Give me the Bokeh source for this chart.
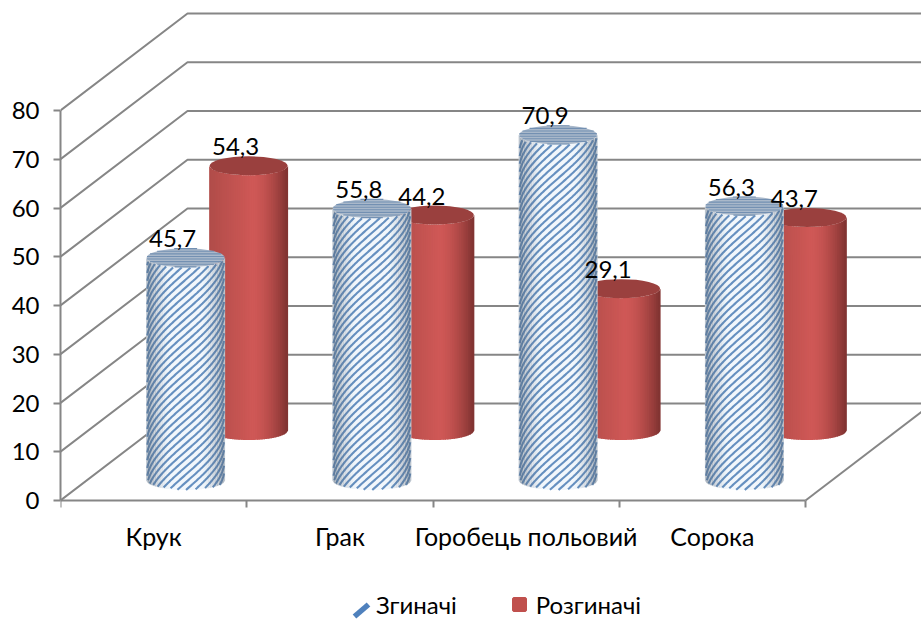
import numpy as np
from bokeh.core.properties import value
from bokeh.embed import file_html
from bokeh.models import FixedTicker, Legend, LegendItem, LinearAxis, Range1d
from bokeh.plotting import figure
from bokeh.resources import INLINE

# Chart values
categories = ["Крук", "Грак", "Горобець польовий", "Сорока"]
flexors = [45.7, 55.8, 70.9, 56.3]
extensors = [54.3, 44.2, 29.1, 43.7]
series_names = ["Згиначі", "Розгиначі"]
value_ticks = [0, 10, 20, 30, 40, 50, 60, 70, 80]

FONT = "Lato"
WORD_PX = "25px"
LEGEND_PX = "24px"
NUMBER_PX = "24px"
AXIS_GREY = "#868686"

# Pixel scale of the two data axes
PX_PER_CAT = 186.25
PX_PER_VAL = 4.875

# Oblique projection of the depth axis, in data units
DEPTH_X = 127 / PX_PER_CAT
DEPTH_Y = 97 / PX_PER_VAL

# Placement of each series inside its category slot
FLEX_SHIFT, FLEX_LIFT = 32 / PX_PER_CAT, 20 / PX_PER_VAL
EXT_SHIFT, EXT_LIFT = 95 / PX_PER_CAT, 70 / PX_PER_VAL

# Cylinder proportions
HALF_W = 39 / PX_PER_CAT
CAP_B = 9.5 / PX_PER_VAL
SLICES = 44

# The frame fills the page down to the legend; the category axis is pinned at zero
p = figure(
    width=921, height=619,
    x_range=Range1d(0, 861 / PX_PER_CAT),
    y_range=Range1d(-119 / PX_PER_VAL, 500 / PX_PER_VAL),
    output_backend="svg", toolbar_location=None,
    min_border_left=60, min_border_right=0, min_border_top=0, min_border_bottom=0,
    x_axis_type=None, y_axis_type=None, outline_line_color=None,
)
p.xgrid.visible = False
p.ygrid.visible = False

# Value axis
y_axis = LinearAxis(ticker=FixedTicker(ticks=value_ticks), bounds=(0, 80))
y_axis.axis_line_color = AXIS_GREY
y_axis.axis_line_width = 2
y_axis.major_tick_line_color = AXIS_GREY
y_axis.major_tick_line_width = 2
y_axis.major_tick_out = 7
y_axis.major_tick_in = 0
y_axis.minor_tick_line_color = None
y_axis.major_label_standoff = 14
y_axis.major_label_text_font = FONT
y_axis.major_label_text_font_size = NUMBER_PX
y_axis.major_label_text_color = "#000000"
p.add_layout(y_axis, "left")

# Category axis: ticks on slot edges, labels on slot centres
centres = [i + 0.5 for i in range(len(categories))]
x_axis = LinearAxis(
    ticker=FixedTicker(ticks=centres, minor_ticks=list(range(len(categories) + 1))),
    bounds=(0, len(categories)),
    fixed_location=0,
)
x_axis.major_label_overrides = dict(zip(centres, categories))
x_axis.axis_line_color = AXIS_GREY
x_axis.axis_line_width = 2
x_axis.major_tick_line_color = None
x_axis.major_tick_out = 0
x_axis.major_tick_in = 0
x_axis.minor_tick_line_color = AXIS_GREY
x_axis.minor_tick_line_width = 2
x_axis.minor_tick_out = 7
x_axis.minor_tick_in = 0
x_axis.major_label_standoff = 13
x_axis.major_label_text_font = FONT
x_axis.major_label_text_font_size = WORD_PX
x_axis.major_label_text_color = "#000000"
p.add_layout(x_axis, "below")

# Side wall, back wall and floor edge lines
x_end = p.x_range.end
p.multi_line(
    xs=[[0, DEPTH_X, x_end] for _ in value_ticks],
    ys=[[v, v + DEPTH_Y, v + DEPTH_Y] for v in value_ticks],
    line_color=AXIS_GREY, line_width=2,
)
p.line(x=[len(categories), len(categories) + DEPTH_X], y=[0, DEPTH_Y], line_color=AXIS_GREY, line_width=2)


def hex_mix(c1, c2, t):
    a = np.array([int(c1[i:i + 2], 16) for i in (1, 3, 5)], float)
    b = np.array([int(c2[i:i + 2], 16) for i in (1, 3, 5)], float)
    m = a + (b - a) * t
    return "#%02x%02x%02x" % tuple(int(round(v)) for v in m)


def slice_polys(cx, y_low, y_high):
    """Vertical strips following the curved base and the curved top rim."""
    edges = np.linspace(-1, 1, SLICES + 1)
    xs, ys, mids = [], [], []
    for u0, u1 in zip(edges[:-1], edges[1:]):
        us = np.linspace(u0, u1, 4)
        arc = CAP_B * np.sqrt(np.clip(1 - us ** 2, 0, 1))
        px = cx + HALF_W * us
        pad = HALF_W * 0.012
        px[0] -= pad
        px[-1] += pad
        xs.append(list(px) + list(px[::-1]))
        ys.append(list(y_low - arc) + list((y_high - arc)[::-1]))
        mids.append((u0 + u1) / 2)
    return xs, ys, np.array(mids)


def draw_extensor(cx, lift, val):
    low, high = lift, lift + val
    xs, ys, mids = slice_polys(cx, low, high)
    colours = []
    for u in mids:
        if u < 0.1:
            colours.append(hex_mix("#b04c49", "#cf5856", (u + 1) / 1.1))
        else:
            colours.append(hex_mix("#cf5856", "#7f3230", ((u - 0.1) / 0.9) ** 1.7))
    p.patches(xs=xs, ys=ys, fill_color=colours, line_color=None)
    p.ellipse(x=[cx], y=[high], width=[2 * HALF_W], height=[2 * CAP_B],
              fill_color="#9a403e", line_color=None)


def draw_flexor(cx, lift, val):
    low, high = lift, lift + val
    xs, ys, mids = slice_polys(cx, low, high)
    p.patches(xs=xs, ys=ys, fill_color="#f2f7fc", line_color=None)

    # Diagonal stripes that wrap around the round body
    us = np.linspace(-0.985, 0.985, 90)
    px = us * HALF_W * PX_PER_CAT
    wrap = 0.88 * 39 * np.arcsin(us)
    bottom_px = (low - CAP_B * np.sqrt(1 - us ** 2)) * PX_PER_VAL
    top_px = (high - CAP_B * np.sqrt(1 - us ** 2)) * PX_PER_VAL
    stripe_x, stripe_y = [], []
    for base in np.arange(low * PX_PER_VAL - 80, high * PX_PER_VAL + 80, 7.8):
        h = base + wrap
        keep = (h >= bottom_px) & (h <= top_px)
        if keep.sum() < 2:
            continue
        stripe_x.append(list(cx + px[keep] / PX_PER_CAT))
        stripe_y.append(list(h[keep] / PX_PER_VAL))
    p.multi_line(xs=stripe_x, ys=stripe_y, line_color="#6690c0", line_width=2.1)

    # Edge shading laid over the stripes
    alphas = np.clip(np.abs(mids) - 0.4, 0, 1) ** 1.5 * 0.8
    p.patches(xs=xs, ys=ys, fill_color="#5a6878", fill_alpha=list(alphas), line_color=None)

    # Top cap with fine horizontal stripes
    p.ellipse(x=[cx], y=[high], width=[2 * HALF_W], height=[2 * CAP_B],
              fill_color="#a9b8ca", line_color=None)
    offs = np.arange(-CAP_B * 0.96, CAP_B, 2.6 / PX_PER_VAL)
    half = HALF_W * np.sqrt(1 - (offs / CAP_B) ** 2)
    p.segment(x0=list(cx - half), y0=list(high + offs), x1=list(cx + half), y1=list(high + offs),
              line_color="#7390b2", line_width=1.1)


for i, v in enumerate(extensors):
    draw_extensor(centres[i] + EXT_SHIFT, EXT_LIFT, v)
for i, v in enumerate(flexors):
    draw_flexor(centres[i] + FLEX_SHIFT, FLEX_LIFT, v)

# Value labels, printed with a decimal comma
label_x, label_y, label_text = [], [], []
for i in range(len(categories)):
    label_x += [centres[i] + FLEX_SHIFT, centres[i] + EXT_SHIFT]
    label_y += [FLEX_LIFT + flexors[i], EXT_LIFT + extensors[i]]
    label_text += [f"{flexors[i]:.1f}".replace(".", ","), f"{extensors[i]:.1f}".replace(".", ",")]
p.text(x=label_x, y=label_y, text=label_text, x_offset=-13, y_offset=-19,
       text_align="center", text_baseline="middle",
       text_font=value(FONT), text_font_size=NUMBER_PX, text_color="#000000")

# Legend keys: points kept off the visible range, only their swatches show.
# The flexor key is a slanted dash laid over an empty legend slot.
key_flex = p.scatter(x=[-5], y=[-5], marker="square", size=12, fill_alpha=0, line_alpha=0)
key_ext = p.scatter(x=[-5], y=[-5], marker="square", size=12,
                    fill_color="#c0504d", line_color="#c0504d", line_width=3)
p.line(x=[(354 - 60) / PX_PER_CAT, (368 - 60) / PX_PER_CAT],
       y=[(500 - 616) / PX_PER_VAL, (500 - 604) / PX_PER_VAL],
       line_color="#4f81bd", line_width=5.5)
legend = Legend(
    items=[LegendItem(label=value(series_names[0]), renderers=[key_flex]),
           LegendItem(label=value(series_names[1]), renderers=[key_ext])],
    orientation="horizontal", location=(284, 0),
    border_line_color=None, background_fill_alpha=0,
    label_text_font=FONT, label_text_font_size=LEGEND_PX, label_text_color="#000000",
    glyph_width=30, glyph_height=30, spacing=47, label_standoff=2, padding=0, margin=0,
)
p.add_layout(legend, "center")

open("out.html", "w").write(file_html(p, INLINE))
